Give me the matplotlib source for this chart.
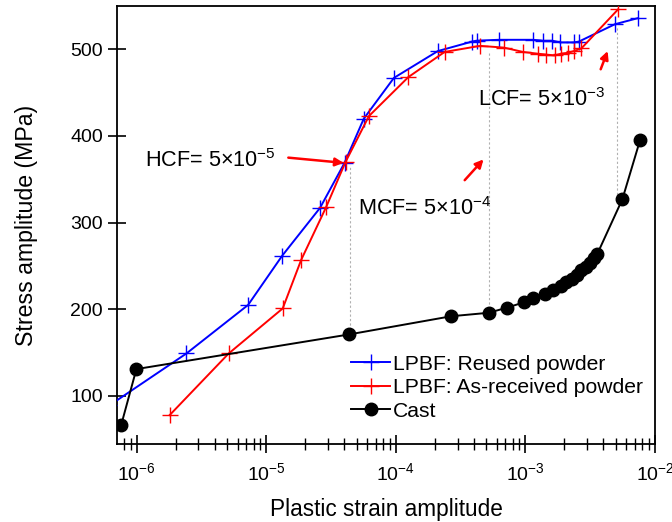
import matplotlib
matplotlib.use("Agg")
import matplotlib.pyplot as plt
from matplotlib.ticker import LogLocator, NullFormatter, FixedLocator

plt.rcParams["font.family"] = ["Liberation Sans", "DejaVu Sans"]
plt.rcParams["mathtext.fontset"] = "custom"
plt.rcParams["mathtext.rm"] = "Liberation Sans"
plt.rcParams["mathtext.it"] = "Liberation Sans"
plt.rcParams["mathtext.default"] = "regular"

# LPBF, reused powder
reused_strain = [6.15e-7, 2.42e-6, 7.24e-6, 1.33e-5, 2.6e-5, 4.02e-5, 5.66e-5,
                 9.66e-5, 2.11e-4, 3.89e-4, 4.2e-4, 6.24e-4, 1.14e-3, 1.37e-3,
                 1.61e-3, 1.85e-3, 2.37e-3, 2.59e-3, 4.91e-3, 7.39e-3]
reused_stress = [89, 149, 205, 262, 317, 369, 420,
                 467, 498, 509, 510, 511, 511, 510,
                 510, 508, 508, 509, 529, 536]

# LPBF, as-received powder
asrec_strain = [1.8e-6, 5.13e-6, 1.34e-5, 1.86e-5, 2.9e-5, 4.09e-5, 6.2e-5,
                1.25e-4, 2.38e-4, 4.46e-4, 6.82e-4, 9.57e-4, 1.24e-3, 1.43e-3,
                1.68e-3, 1.89e-3, 2.13e-3, 2.37e-3, 2.7e-3, 5.18e-3]
asrec_stress = [78, 149, 201, 257, 318, 370, 423,
                468, 497, 504, 502, 497, 495, 494,
                493, 495, 496, 498, 501, 546]

# Cast alloy
cast_strain = [7.58e-7, 9.95e-7, 4.36e-5, 2.68e-4, 5.22e-4, 7.24e-4, 9.73e-4,
               1.15e-3, 1.41e-3, 1.64e-3, 1.87e-3, 2.07e-3, 2.28e-3, 2.49e-3,
               2.7e-3, 2.92e-3, 3.15e-3, 3.38e-3, 3.59e-3, 5.6e-3, 7.66e-3]
cast_stress = [66, 131, 171, 192, 196, 202, 208,
               213, 218, 222, 227, 231, 235, 240,
               245, 249, 254, 259, 264, 327, 395]

# Regime boundaries: (strain, upper stress, lower stress)
guide_strain = [4.4e-5, 5.2e-4, 5.1e-3]
guide_top = [366, 498, 527]
guide_bottom = [171, 196, 327]

fig = plt.figure(figsize=(6.72, 5.22), dpi=100)
ax = fig.add_axes([0.1741, 0.1485, 0.8006, 0.84])

for xs, yt, yb in zip(guide_strain, guide_top, guide_bottom):
    ax.plot([xs, xs], [yb, yt], color="#b0b0b0", lw=0.8, ls=(0, (2, 2)), zorder=1)

ax.plot(reused_strain, reused_stress, color="#0000ff", lw=1.4, marker="+",
        ms=11, mew=1.0, label="LPBF: Reused powder", zorder=3)
ax.plot(asrec_strain, asrec_stress, color="#ff0000", lw=1.4, marker="+",
        ms=11, mew=1.0, label="LPBF: As-received powder", zorder=3)
ax.plot(cast_strain, cast_stress, color="black", lw=1.4, marker="o",
        ms=9, label="Cast", zorder=4)

ax.set_xscale("log")
ax.set_xlim(7.05e-7, 1e-2)
ax.set_ylim(44, 550)

ax.xaxis.set_major_locator(FixedLocator([1e-6, 1e-5, 1e-4, 1e-3, 1e-2]))
ax.xaxis.set_minor_locator(LogLocator(base=10, subs=range(2, 10), numticks=20))
ax.xaxis.set_minor_formatter(NullFormatter())
ax.set_xticklabels(["$10^{-6}$", "$10^{-5}$", "$10^{-4}$", "$10^{-3}$", "$10^{-2}$"])
ax.set_yticks([100, 200, 300, 400, 500])

ax.tick_params(axis="both", which="major", direction="inout", length=13,
               width=1.2, labelsize=14, color="black")
ax.tick_params(axis="x", which="minor", direction="inout", length=8, width=1.0)
ax.tick_params(axis="x", which="major", pad=6)
ax.tick_params(axis="y", which="major", pad=3.5)
for sp in ax.spines.values():
    sp.set_linewidth(1.3)

ax.set_xlabel("Plastic strain amplitude", fontsize=16.3, labelpad=10)
ax.set_ylabel("Stress amplitude (MPa)", fontsize=16.7, labelpad=23.5)

ax.text(1.15e-6, 371.5, "HCF= 5×10$^{-5}$", fontsize=15.6, va="center", ha="left")
ax.text(5.15e-5, 316, "MCF= 5×10$^{-4}$", fontsize=15.6, va="center", ha="left")
ax.text(4.3e-4, 442, "LCF= 5×10$^{-3}$", fontsize=15.6, va="center", ha="left")

arrow = dict(arrowstyle="-|>", color="#ff0000", lw=1.8, mutation_scale=12,
             shrinkA=0, shrinkB=0)
ax.annotate("", xy=(3.95e-5, 369), xytext=(1.48e-5, 375), arrowprops=arrow)
ax.annotate("", xy=(4.75e-4, 373), xytext=(3.4e-4, 349), arrowprops=arrow)
ax.annotate("", xy=(4.31e-3, 498), xytext=(3.81e-3, 477), arrowprops=arrow)

ax.legend(loc="upper left", bbox_to_anchor=(0.435, 0.205), frameon=False,
          fontsize=15.2, handlelength=1.85, handletextpad=0.15,
          labelspacing=0.22, borderaxespad=0, borderpad=0)

fig.savefig("out.png", dpi=100)
